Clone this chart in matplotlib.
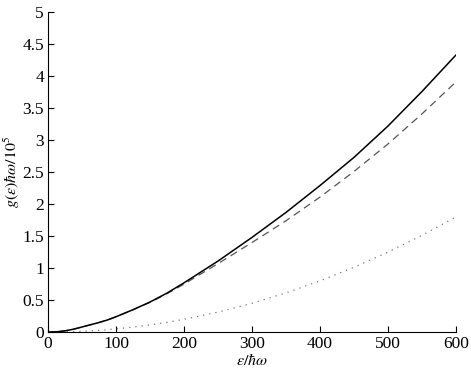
import matplotlib
matplotlib.use("Agg")
import matplotlib.pyplot as plt

plt.rcParams['font.family'] = ['Liberation Serif', 'DejaVu Serif']
plt.rcParams['mathtext.fontset'] = 'stix'

eps = [0, 12.5, 25, 37.5, 50, 62.5, 75, 87.5, 100, 125, 150, 175, 200, 250, 300, 350, 400, 450, 500, 550, 600]
g_solid = [0, 0.005, 0.02, 0.045, 0.08, 0.115, 0.15, 0.19, 0.24, 0.35, 0.47, 0.61, 0.77, 1.11, 1.48, 1.87, 2.29, 2.73, 3.22, 3.76, 4.33]
g_dashed = [0, 0.005, 0.02, 0.045, 0.08, 0.115, 0.15, 0.19, 0.24, 0.35, 0.465, 0.60, 0.75, 1.07, 1.40, 1.74, 2.11, 2.51, 2.94, 3.41, 3.91]
g_dotted = [0, 0.0008, 0.003, 0.007, 0.0125, 0.0195, 0.028, 0.038, 0.05, 0.078, 0.1125, 0.153, 0.2, 0.3125, 0.45, 0.6125, 0.8, 1.0125, 1.25, 1.5125, 1.8]

xticks = [0, 100, 200, 300, 400, 500, 600]
yticks = [0, 0.5, 1, 1.5, 2, 2.5, 3, 3.5, 4, 4.5, 5]
ytick_labels = ['0', '0.5', '1', '1.5', '2', '2.5', '3', '3.5', '4', '4.5', '5']

fig = plt.figure(figsize=(4.71, 3.69), dpi=100)
ax = fig.add_axes([0.102, 0.100, 0.866, 0.867])

ax.plot(eps, g_dotted, color='#777777', linestyle=(0, (1, 4)), linewidth=0.9)
ax.plot(eps, g_dashed, color='#555555', linestyle=(0, (6, 4)), linewidth=0.9)
ax.plot(eps, g_solid, color='black', linestyle='-', linewidth=1.1)

ax.set_xlim(0, 600)
ax.set_ylim(0, 5)
ax.set_xticks(xticks)
ax.set_yticks(yticks)
ax.set_yticklabels(ytick_labels)
ax.spines['top'].set_visible(False)
ax.spines['right'].set_visible(False)
ax.tick_params(direction='in', length=4, width=0.8, labelsize=12.5, pad=3)
ax.set_xlabel(r'$\epsilon/\hbar\omega$', fontsize=11.5)
ax.set_ylabel(r'$g(\epsilon)\hbar\omega/10^5$', fontsize=11.5)
ax.xaxis.set_label_coords(0.5, -0.066)
ax.yaxis.set_label_coords(-0.064, 0.5)

fig.savefig('out.png', dpi=100)
